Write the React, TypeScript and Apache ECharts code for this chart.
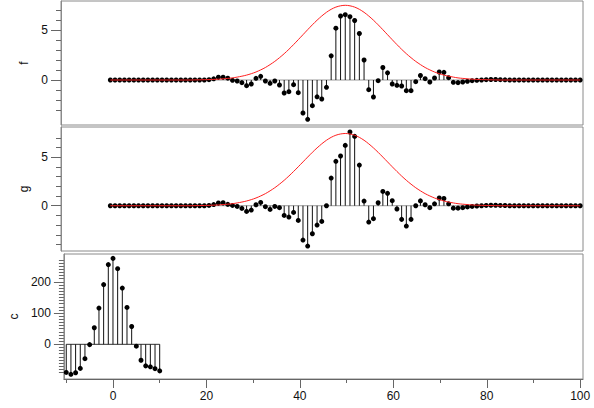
import React, { useEffect, useRef } from "react";
import * as echarts from "echarts";

// Sample positions for the two long signals (0..100) and the short one (-10..10)
const signalX: number[] = Array.from({ length: 101 }, (_, i) => i);
const lagX: number[] = Array.from({ length: 21 }, (_, i) => i - 10);

// Signal f
const fValues: number[] = [
  0, 0, 0, 0, 0, 0, 0, 0, 0, 0,
  0, 0, 0, 0, 0, 0, 0, 0, 0, 0,
  0, 0.03, 0.12, 0.28, 0.28, 0.18, -0.03, -0.1, -0.27, -0.57,
  -0.4, 0.17, 0.37, -0.1, -0.33, -0.1, -0.5, -1.3, -1.17, -0.47,
  -1.27, -3.3, -3.93, -2.57, -1.68, -1.9, -0.73, 2.42, 5.18, 6.4,
  6.53, 6.33, 5.95, 4.65, 2.0, -0.97, -1.7, -0.07, 1.25, 0.72,
  -0.4, -0.53, -0.6, -1.07, -1.07, -0.17, 0.45, 0.13, -0.2, 0.2,
  0.8, 0.77, 0.23, -0.23, -0.27, -0.2, -0.13, -0.07, -0.03, 0,
  0.03, 0.05, 0.05, 0.03, 0.02, 0, 0, 0, 0, 0,
  0, 0, 0, 0, 0, 0, 0, 0, 0, 0,
  0,
];

// Signal g
const gValues: number[] = [
  0, 0, 0, 0, 0, 0, 0, 0, 0, 0,
  0, 0, 0, 0, 0, 0, 0, 0, 0, 0,
  0, 0.03, 0.12, 0.28, 0.31, 0.14, 0.03, -0.07, -0.28, -0.59,
  -0.45, 0.1, 0.34, -0.1, -0.38, -0.07, -0.2, -1.0, -1.17, -0.69,
  -1.52, -3.55, -4.17, -2.9, -2.0, -1.62, 0, 2.86, 4.59, 5.14,
  6.24, 7.62, 7.17, 4.2, 0.48, -1.69, -1.34, 0.31, 1.48, 1.28,
  0.52, -0.34, -1.41, -2.1, -1.41, 0, 0.5, 0.1, -0.2, 0.2,
  0.8, 0.75, 0.2, -0.25, -0.25, -0.2, -0.12, -0.07, -0.03, 0,
  0.03, 0.05, 0.05, 0.03, 0.02, 0, 0, 0, 0, 0,
  0, 0, 0, 0, 0, 0, 0, 0, 0, 0,
  0,
];

// Bell-shaped envelope drawn in red over both signals
const envelope: number[] = [
  0, 0, 0, 0, 0, 0, 0, 0, 0, 0,
  0, 0, 0, 0, 0, 0, 0, 0, 0.01, 0.02,
  0.03, 0.04, 0.06, 0.08, 0.12, 0.16, 0.21, 0.29, 0.38, 0.49,
  0.63, 0.8, 1.01, 1.25, 1.54, 1.86, 2.23, 2.63, 3.07, 3.54,
  4.03, 4.53, 5.03, 5.52, 5.98, 6.4, 6.77, 7.07, 7.29, 7.42,
  7.47, 7.42, 7.29, 7.07, 6.77, 6.4, 5.98, 5.52, 5.03, 4.53,
  4.03, 3.54, 3.07, 2.63, 2.23, 1.86, 1.54, 1.25, 1.01, 0.8,
  0.63, 0.49, 0.38, 0.29, 0.21, 0.16, 0.12, 0.08, 0.06, 0.04,
  0.03, 0.02, 0.01, 0, 0, 0, 0, 0, 0, 0,
  0, 0, 0, 0, 0, 0, 0, 0, 0, 0,
  0,
];

// Correlation c over lags -10..10
const cValues: number[] = [
  -90, -96, -91, -77, -46, -1, 53, 116, 191, 255, 275,
  242, 180, 118, 57, -6, -51, -69, -72, -78, -85,
];

// Tick positions
const xMajorTicks: number[] = [0, 20, 40, 60, 80, 100];
const xMinorTicks: number[] = [-10, 10, 30, 50, 70, 90];
const fgMajorTicks: number[] = [0, 5];
const fMinorTicks: number[] = [-3, -2, -1, 1, 2, 3, 4, 6, 7];
const gMinorTicks: number[] = [-4, -3, -2, -1, 1, 2, 3, 4, 6, 7];
const cMajorTicks: number[] = [0, 100, 200];
const cMinorTicks: number[] = Array.from({ length: 38 }, (_, i) => -100 + i * 10).filter(
  (v) => v % 100 !== 0
);

const FONT = "'Liberation Sans', Arial, sans-serif";
const FRAME = "#8a8a8a";
const TICK = "#666";

function pairs(xs: number[], ys: number[]): number[][] {
  return xs.map((x, i) => [x, ys[i]]);
}

const stemRender = (color: string) => (params: any, api: any) => {
  const x = api.value(0);
  const y = api.value(1);
  const p0 = api.coord([x, 0]);
  const p1 = api.coord([x, y]);
  return {
    type: "line",
    shape: { x1: p0[0], y1: p0[1], x2: p1[0], y2: p1[1] },
    style: { stroke: color, lineWidth: 1 },
  };
};

function panelSeries(
  xs: number[],
  ys: number[],
  xAxisIndex: number,
  yAxisIndex: number,
  baseColor: string,
  env?: number[]
): any[] {
  const list: any[] = [
    {
      type: "line",
      xAxisIndex,
      yAxisIndex,
      data: [
        [xs[0], 0],
        [xs[xs.length - 1], 0],
      ],
      symbol: "none",
      lineStyle: { color: baseColor, width: 1 },
      silent: true,
      z: 1,
    },
    {
      type: "custom",
      xAxisIndex,
      yAxisIndex,
      data: pairs(xs, ys),
      renderItem: stemRender("#111"),
      silent: true,
      z: 2,
    },
    {
      type: "scatter",
      xAxisIndex,
      yAxisIndex,
      data: pairs(xs, ys),
      symbol: "circle",
      symbolSize: 5,
      itemStyle: { color: "#000", opacity: 1 },
      silent: true,
      z: 3,
    },
  ];
  if (env) {
    list.push({
      type: "line",
      xAxisIndex,
      yAxisIndex,
      data: pairs(xs, env),
      symbol: "none",
      smooth: 0.3,
      lineStyle: { color: "#ff2020", width: 1 },
      silent: true,
      z: 4,
    });
  }
  return list;
}

function majorY(
  gridIndex: number,
  min: number,
  max: number,
  ticks: number[],
  name: string,
  nameGap: number
) {
  return {
    type: "value",
    gridIndex,
    min,
    max,
    position: "left",
    name,
    nameLocation: "middle",
    nameRotate: 90,
    nameGap,
    nameTextStyle: { fontFamily: FONT, fontSize: 12, color: "#111" },
    splitLine: { show: false },
    axisLine: { show: true, onZero: false, lineStyle: { color: FRAME, width: 1 } },
    axisTick: {
      show: true,
      length: 10,
      customValues: ticks,
      lineStyle: { color: TICK, width: 1 },
    },
    axisLabel: {
      show: true,
      customValues: ticks,
      margin: 13,
      fontFamily: FONT,
      fontSize: 12,
      color: "#111",
    },
  };
}

function minorY(gridIndex: number, min: number, max: number, ticks: number[]) {
  return {
    type: "value",
    gridIndex,
    min,
    max,
    position: "left",
    offset: 0,
    splitLine: { show: false },
    axisLine: { show: false, onZero: false },
    axisTick: {
      show: true,
      length: 5,
      customValues: ticks,
      lineStyle: { color: TICK, width: 1 },
    },
    axisLabel: { show: false },
  };
}

const X_MIN = -10.5;
const X_MAX = 100.6;

export default function App() {
  const ref = useRef<HTMLDivElement>(null);

  useEffect(() => {
    if (!ref.current) return;
    const chart = echarts.init(ref.current, undefined, { renderer: "svg" });

    const gridBase = {
      left: 61,
      width: 522,
      show: true,
      borderColor: FRAME,
      borderWidth: 1,
      backgroundColor: "transparent",
    };

    const hiddenX = (gridIndex: number) => ({
      type: "value",
      gridIndex,
      min: X_MIN,
      max: X_MAX,
      show: false,
    });

    chart.setOption({
      animation: false,
      backgroundColor: "#fff",
      textStyle: { fontFamily: FONT },
      grid: [
        { ...gridBase, top: 1, height: 124 },
        { ...gridBase, top: 127, height: 124 },
        { ...gridBase, top: 254, height: 125 },
      ],
      xAxis: [
        hiddenX(0),
        hiddenX(1),
        {
          type: "value",
          gridIndex: 2,
          min: X_MIN,
          max: X_MAX,
          position: "bottom",
          splitLine: { show: false },
          axisLine: { show: true, onZero: false, lineStyle: { color: TICK, width: 1 } },
          axisTick: {
            show: true,
            length: 9,
            customValues: xMajorTicks,
            lineStyle: { color: TICK, width: 1 },
          },
          axisLabel: {
            show: true,
            customValues: xMajorTicks,
            margin: 11,
            fontFamily: FONT,
            fontSize: 12,
            color: "#111",
          },
        },
        {
          type: "value",
          gridIndex: 2,
          min: X_MIN,
          max: X_MAX,
          position: "bottom",
          offset: 0,
          splitLine: { show: false },
          axisLine: { show: false, onZero: false },
          axisTick: {
            show: true,
            length: 4,
            customValues: xMinorTicks,
            lineStyle: { color: TICK, width: 1 },
          },
          axisLabel: { show: false },
        },
      ],
      yAxis: [
        majorY(0, -4.5, 7.9, fgMajorTicks, "f", 29),
        minorY(0, -4.5, 7.9, fMinorTicks),
        majorY(1, -4.68, 8.14, fgMajorTicks, "g", 29),
        minorY(1, -4.68, 8.14, gMinorTicks),
        majorY(2, -111, 289, cMajorTicks, "c", 42),
        minorY(2, -111, 289, cMinorTicks),
      ],
      series: [
        ...panelSeries(signalX, fValues, 0, 0, "#9a9a9a", envelope),
        ...panelSeries(signalX, gValues, 1, 2, "#9a9a9a", envelope),
        ...panelSeries(lagX, cValues, 2, 4, "#333"),
      ],
    });

    return () => {
      chart.dispose();
    };
  }, []);

  return (
    <div
      ref={ref}
      style={{ position: "fixed", left: 0, top: 0, width: 594, height: 408 }}
    />
  );
}
